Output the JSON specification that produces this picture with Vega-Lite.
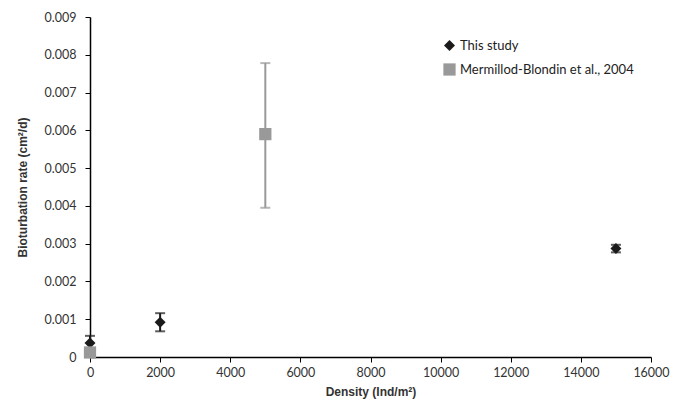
{
  "$schema": "https://vega.github.io/schema/vega-lite/v6.json",
  "autosize": {"type": "none"},
  "padding": {"left": 90, "top": 17, "right": 27, "bottom": 49},
  "width": 561,
  "height": 340,
  "background": "white",
  "config": {"view": {"stroke": null}},
  "data": {"values": [
    {"series": "This study", "density": 0, "rate": 0.00037, "lo": 0.00019, "hi": 0.00056},
    {"series": "This study", "density": 2000, "rate": 0.00092, "lo": 0.00068, "hi": 0.00116},
    {"series": "This study", "density": 15000, "rate": 0.00287, "lo": 0.00277, "hi": 0.00297},
    {"series": "Mermillod-Blondin et al., 2004", "density": 0, "rate": 0.00012, "lo": 0.00012, "hi": 0.00012},
    {"series": "Mermillod-Blondin et al., 2004", "density": 5000, "rate": 0.0059, "lo": 0.00395, "hi": 0.00778}
  ]},
  "encoding": {
    "x": {"field": "density", "type": "quantitative",
      "scale": {"domain": [0, 16000], "nice": false},
      "axis": {"title": "Density (Ind/m²)", "values": [0,2000,4000,6000,8000,10000,12000,14000,16000], "format": "d",
        "grid": false, "domainColor": "#000", "domainWidth": 1.5, "tickColor": "#000", "tickSize": 5, "labelFlush": false,
        "labelFont": "Lato", "labelFontSize": 12.5, "labelColor": "#333", "labelPadding": 4,
        "titleFont": "Liberation Sans", "titleFontSize": 12, "titleFontWeight": "bold", "titleColor": "#333", "titlePadding": 8}}
  },
  "layer": [
    {
      "mark": {"type": "errorbar", "ticks": {"size": 10}, "thickness": 2},
      "encoding": {
        "y": {"field": "lo", "type": "quantitative", "title": "Bioturbation rate (cm²/d)",
          "scale": {"domain": [0, 0.009], "nice": false},
          "axis": {"title": "Bioturbation rate (cm²/d)", "values": [0,0.001,0.002,0.003,0.004,0.005,0.006,0.007,0.008,0.009], "format": ".3~f",
            "grid": false, "domainColor": "#000", "domainWidth": 1.5, "tickColor": "#000", "tickSize": 5, "labelFlush": false,
            "labelFont": "Lato", "labelFontSize": 12.5, "labelColor": "#333", "labelPadding": 9,
            "titleFont": "Liberation Sans", "titleFontSize": 12, "titleFontWeight": "bold", "titleColor": "#333", "titlePadding": 15}},
        "y2": {"field": "hi"},
        "color": {"field": "series", "type": "nominal", "scale": {"domain": ["This study", "Mermillod-Blondin et al., 2004"], "range": ["#1a1a1a", "#999999"]}}
      }
    },
    {
      "mark": {"type": "point", "filled": true, "opacity": 1},
      "encoding": {
        "y": {"field": "rate", "type": "quantitative", "title": "Bioturbation rate (cm²/d)",
          "scale": {"domain": [0, 0.009], "nice": false},
          "axis": {"title": "Bioturbation rate (cm²/d)", "values": [0,0.001,0.002,0.003,0.004,0.005,0.006,0.007,0.008,0.009], "format": ".3~f",
            "grid": false, "domainColor": "#000", "domainWidth": 1.5, "tickColor": "#000", "tickSize": 5, "labelFlush": false,
            "labelFont": "Lato", "labelFontSize": 12.5, "labelColor": "#333", "labelPadding": 9,
            "titleFont": "Liberation Sans", "titleFontSize": 12, "titleFontWeight": "bold", "titleColor": "#333", "titlePadding": 15}},
        "color": {"field": "series", "type": "nominal", "scale": {"domain": ["This study", "Mermillod-Blondin et al., 2004"], "range": ["#1a1a1a", "#999999"]},
          "legend": {"title": null, "orient": "none", "legendX": 353, "legendY": 22, "labelFont": "Lato", "labelFontSize": 13, "labelColor": "#222", "rowPadding": 10, "symbolSize": 120, "symbolOpacity": 1, "labelLimit": 300,
            "encode": {"symbols": {"update": {"opacity": {"value": 1}, "fillOpacity": {"value": 1}, "strokeWidth": {"value": 0}}}}}},
        "shape": {"field": "series", "type": "nominal", "scale": {"domain": ["This study", "Mermillod-Blondin et al., 2004"], "range": ["diamond", "square"]}},
        "size": {"field": "series", "type": "nominal", "scale": {"domain": ["This study", "Mermillod-Blondin et al., 2004"], "range": [120, 150]}, "legend": null}
      }
    }
  ]
}
